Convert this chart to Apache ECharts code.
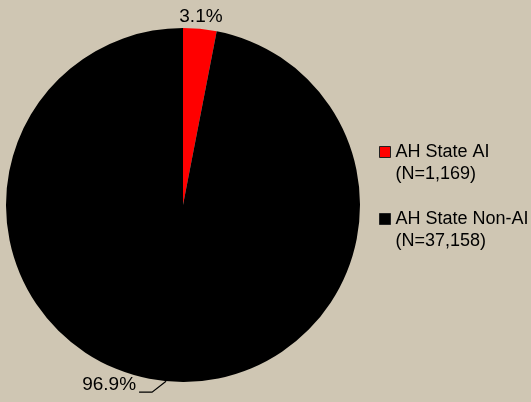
<!DOCTYPE html>
<html><head><meta charset="utf-8">
<script src="https://cdn.jsdelivr.net/npm/echarts@6/dist/echarts.min.js"></script>
<style>html,body{margin:0;padding:0;background:#CFC6B3;}#c{width:531px;height:402px;}</style>
</head><body><div id="c"></div>
<script>
var categories = ['AH State AI', 'AH State Non-AI'];
var counts = [1169, 37158];
var countLabels = ['1,169', '37,158'];
var colors = ['#FF0000', '#000000'];

var chart = echarts.init(document.getElementById('c'));
var data = categories.map(function (c, i) {
  return { name: c, value: counts[i], itemStyle: { color: colors[i] } };
});
chart.setOption({
  backgroundColor: '#CFC6B3',
  animation: false,
  legend: {
    orient: 'vertical',
    left: 374, top: 114,
    itemWidth: 11, itemHeight: 11,
    itemGap: 1,
    icon: 'rect',
    data: categories.map(function (c) {
      return { name: c, itemStyle: { borderColor: '#222', borderWidth: 1 } };
    }),
    formatter: function (name) {
      var i = categories.indexOf(name);
      return '\n' + name + '\n(N=' + countLabels[i] + ')';
    },
    textStyle: { fontFamily: 'Liberation Sans', fontSize: 18, color: '#000', lineHeight: 22 }
  },
  series: [{
    type: 'pie',
    center: [183, 205],
    radius: 177,
    startAngle: 90,
    clockwise: true,
    percentPrecision: 1,
    data: data,
    label: {
      position: 'outside',
      formatter: '{d}%',
      fontFamily: 'Liberation Sans',
      fontSize: 19,
      color: '#000'
    },
    labelLine: { show: true, length: 6, length2: 0, lineStyle: { color: '#000', width: 1.2 } },
    labelLayout: function (params) {
      var p0 = params.labelLinePoints[0];
      if (params.dataIndex === 0) {
        return { x: p0[0] + 1, y: p0[1] - 3, align: 'center', verticalAlign: 'bottom', labelLinePoints: [p0, p0, p0] };
      }
      var p1 = [p0[0] - 14, p0[1] + 11];
      var p2 = [p1[0] - 13, p1[1]];
      return { x: p2[0] - 3, y: p2[1] + 2, align: 'right', verticalAlign: 'bottom', labelLinePoints: [p0, p1, p2] };
    }
  }]
});
</script></body></html>
